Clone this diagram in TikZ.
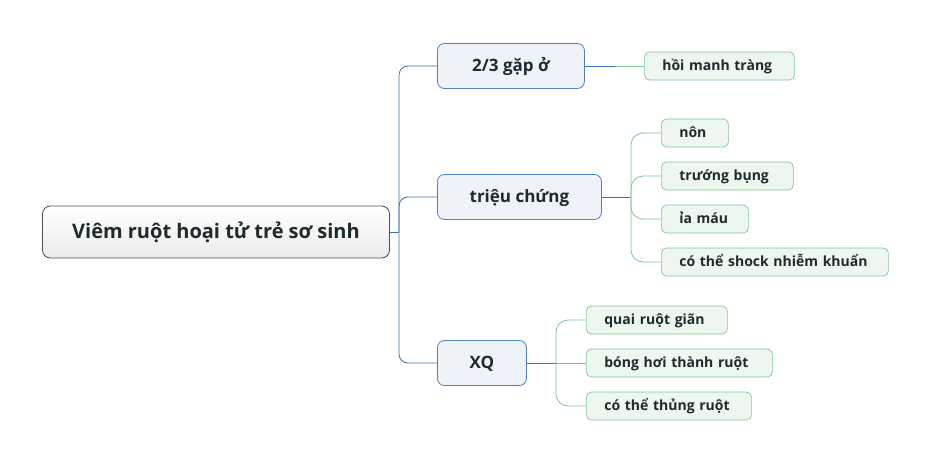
\documentclass[tikz,border=0pt]{standalone}
\usepackage{fontspec}
\setmainfont{Open Sans}
\usetikzlibrary{positioning}
\definecolor{rootline}{HTML}{4D4D4D}
\definecolor{bluebox}{HTML}{4F81BD}
\definecolor{bluefill}{HTML}{EEF3FA}
\definecolor{blueline}{HTML}{3D6FAF}
\definecolor{greenbox}{HTML}{7CC794}
\definecolor{greenfill}{HTML}{EEF6F0}
\definecolor{txt}{HTML}{1C2B2B}

\begin{document}
\begin{tikzpicture}[x=1pt,y=-1pt,
    central/.style={draw=rootline,line width=0.8pt,rounded corners=8pt,top color=white,bottom color=black!8,
      minimum width=347pt,minimum height=52pt,font=\bfseries\fontsize{20}{24}\selectfont,text=txt,
      text height=16pt,text depth=3pt},
    topic/.style={draw=bluebox,line width=0.8pt,rounded corners=7pt,fill=bluefill,
      minimum height=45pt,font=\bfseries\fontsize{17}{20}\selectfont,text=txt,anchor=west,
      text height=14pt,text depth=3pt},
    leaf/.style={draw=greenbox,line width=0.7pt,rounded corners=5pt,fill=greenfill,
      minimum height=28pt,inner xsep=18pt,align=left,font=\bfseries\fontsize{14}{17}\selectfont,
      text=txt,anchor=west,text height=11pt,text depth=3pt},
    branch/.style={draw=blueline,line width=0.8pt,rounded corners=9pt},
    twig/.style={draw=greenbox,line width=0.8pt,rounded corners=12pt}]

    \useasboundingbox (0,0) rectangle (931,463);

    % root and first level
    \node[central] (root) at (216,232) {Viêm ruột hoại tử trẻ sơ sinh};
    \node[topic,minimum width=147pt] (gap) at (437,66) {2/3 gặp ở};
    \node[topic,minimum width=164pt] (trieu) at (437,197) {triệu chứng};
    \node[topic,minimum width=89pt] (xq) at (437,363) {XQ};

    % leaves
    \node[leaf,text width=114pt] (hoi) at (644,66) {hồi manh tràng};
    \node[leaf,text width=31pt] (non) at (661,133) {nôn};
    \node[leaf,text width=96pt] (truong) at (661,176) {trướng bụng};
    \node[leaf,text width=51pt] (ia) at (661,219) {ỉa máu};
    \node[leaf,text width=191pt] (shock) at (661,262) {có thể shock nhiễm khuẩn};
    \node[leaf,text width=105pt] (quai) at (586,320) {quai ruột giãn};
    \node[leaf,text width=150pt] (bong) at (586,363) {bóng hơi thành ruột};
    \node[leaf,text width=129pt] (thung) at (586,406) {có thể thủng ruột};

    \coordinate (rj) at (399,232);
    \coordinate (gj) at (615,66);
    \coordinate (tj) at (631,197);
    \coordinate (xj) at (556,363);

    \path[branch] (root.east) -- (rj);
    \path[branch] (rj) |- (gap.west);
    \path[branch] (rj) |- (trieu.west);
    \path[branch] (rj) |- (xq.west);

    \path[branch] (gap.east) -- (gj);
    \path[twig] (gj) -- (hoi.west);

    \path[branch] (trieu.east) -- (tj);
    \path[twig] (tj) |- (non.west);
    \path[twig] (tj) |- (truong.west);
    \path[twig] (tj) |- (ia.west);
    \path[twig] (tj) |- (shock.west);

    \path[branch] (xq.east) -- (xj);
    \path[twig] (xj) |- (quai.west);
    \path[twig] (xj) -- (bong.west);
    \path[twig] (xj) |- (thung.west);

\end{tikzpicture}
\end{document}
